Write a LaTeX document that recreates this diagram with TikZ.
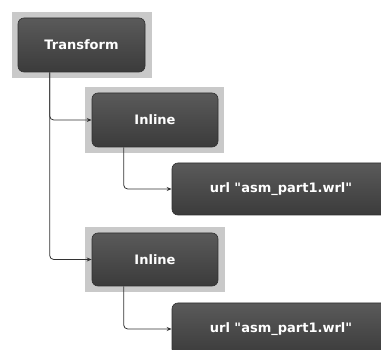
\documentclass[tikz,border=0pt]{standalone}
\usepackage{fontspec}
\setmainfont{DejaVu Sans}[Ligatures=TeXOff]
\usetikzlibrary{arrows.meta}
\definecolor{frame}{HTML}{C9C9C9}
\definecolor{boxtop}{HTML}{5A5A5A}
\definecolor{boxbot}{HTML}{3B3B3B}
\definecolor{boxline}{HTML}{2F2F2F}
\definecolor{conncol}{HTML}{333333}
\tikzset{
  outerframe/.style={fill=frame, draw=none, inner sep=0pt},
  darkbox/.style={rounded corners=6pt, top color=boxtop, bottom color=boxbot, draw=boxline, line width=0.6pt,
    text=white, font=\fontsize{13}{15}\selectfont\bfseries, inner sep=0pt},
  conn/.style={draw=conncol, line width=0.8pt, rounded corners=4pt, -{Stealth[length=5pt,width=4pt]}}
}
\begin{document}
\begin{tikzpicture}[x=1pt,y=-1pt]
\useasboundingbox (0,0) rectangle (381,350);
\clip (0,0) rectangle (381,350);
\fill[white] (0,0) rectangle (381,350);
% frames
\node[outerframe, minimum width=140pt, minimum height=66pt] (TF) at (82,45) {};
\node[outerframe, minimum width=139pt, minimum height=66pt] (I1F) at (154.5,120) {};
\node[outerframe, minimum width=140pt, minimum height=65pt] (I2F) at (155,259.5) {};
% boxes
\node[darkbox, minimum width=127pt, minimum height=54pt] (T) at (81.5,45) {Transform};
\node[darkbox, minimum width=126pt, minimum height=54pt] (I1) at (155,120) {Inline};
\node[darkbox, minimum width=126pt, minimum height=53pt] (I2) at (155,259.5) {Inline};
\node[darkbox, minimum width=218pt, minimum height=52pt] (U1) at (281,189) {url "asm\_part1.wrl"};
\node[darkbox, minimum width=218pt, minimum height=52pt] (U2) at (281,329) {url "asm\_part1.wrl"};
% connectors
\draw[conn] (T.south west) ++(32,0) |- (I1.west);
\draw[conn] (T.south west) ++(32,0) |- (I2.west);
\draw[conn] (I1.south west) ++(32,0) |- (U1.west);
\draw[conn] (I2.south west) ++(32,0) |- (U2.west);
\end{tikzpicture}
\end{document}
